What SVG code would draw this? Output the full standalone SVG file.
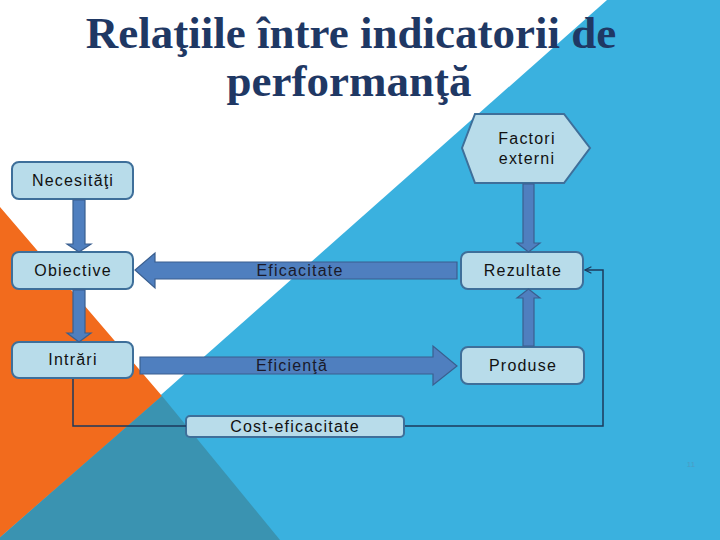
<svg xmlns="http://www.w3.org/2000/svg" width="720" height="540" viewBox="0 0 720 540">
<defs>
<style>
.box{fill:#b8dcea;stroke:#3e6f9a;stroke-width:2}
.lbl{font-family:"Liberation Sans","Open Sans",sans-serif;font-size:16px;letter-spacing:1.2px;fill:#111;text-anchor:middle}
.blk{fill:#4f7fbf;stroke:#3a5f8f;stroke-width:1.2}
.alb{font-family:"Liberation Sans","Open Sans",sans-serif;font-size:16px;letter-spacing:1.2px;fill:#1a1a2a;text-anchor:middle}
.thin{fill:none;stroke:#1d3a5c;stroke-width:1.5}
.title{font-family:"Liberation Serif","Times New Roman",serif;font-weight:bold;font-size:45px;fill:#1f3864;text-anchor:middle}
</style>
<marker id="chev" viewBox="0 0 10 10" refX="9" refY="5" markerWidth="8" markerHeight="8" orient="auto" markerUnits="userSpaceOnUse">
<path d="M1,1 L9,5 L1,9" fill="none" stroke="#1d3a5c" stroke-width="1.4"/>
</marker>
</defs>
<rect x="0" y="0" width="720" height="540" fill="#ffffff"/>
<polygon points="607,0 720,0 720,540 -3,540" fill="#3ab1df"/>
<polygon points="0,207 162,396 -3,540 0,540" fill="#f26b1d"/>
<polygon points="162,396 280,540 -3,540" fill="#3a93b1"/>
<text class="title" x="351" y="48">Relaţiile între indicatorii de</text>
<text class="title" x="349" y="96">performanţă</text>
<g id="necesitati"><rect class="box" x="12" y="162" width="121" height="37" rx="7"/><text class="lbl" x="73" y="186">Necesităţi</text></g>
<g id="obiective"><rect class="box" x="12" y="252" width="121" height="37" rx="7"/><text class="lbl" x="73" y="276">Obiective</text></g>
<g id="intrari"><rect class="box" x="12" y="342" width="121" height="36" rx="7"/><text class="lbl" x="73" y="365">Intrări</text></g>
<g id="factori"><polygon class="box" points="462,148 475,114 564,114 590,148 564,183 475,183"/><text class="lbl" x="527" y="144">Factori</text><text class="lbl" x="527" y="164">externi</text></g>
<g id="rezultate"><rect class="box" x="461" y="252" width="122" height="37" rx="7"/><text class="lbl" x="523" y="276">Rezultate</text></g>
<g id="produse"><rect class="box" x="461" y="347" width="123" height="37" rx="7"/><text class="lbl" x="523" y="371">Produse</text></g>
<g id="cost"><rect class="box" x="186" y="416" width="218" height="21" rx="4"/><text class="lbl" x="295" y="432">Cost-eficacitate</text></g>
<g id="connectors">
<polygon class="blk" points="73,200 85,200 85,244 91,244 79,252 67,244 73,244"/>
<polygon class="blk" points="73,290 85,290 85,333 91,333 79,342 67,333 73,333"/>
<polygon class="blk" points="523,184 534,184 534,243 540,243 528.5,252 517,243 523,243"/>
<polygon class="blk" points="523,346 534,346 534,298 540,298 528.5,289 517,298 523,298"/>
<polygon class="blk" points="457,262 457,279 155,279 155,288 135,270 155,253 155,262"/>
<text class="alb" x="300" y="276">Eficacitate</text>
<polygon class="blk" points="140,357 433,357 433,346 457,366 433,385 433,374 140,374"/>
<text class="alb" x="292" y="371">Eficienţă</text>
<polyline class="thin" points="73,379 73,426 186,426"/>
<polyline class="thin" points="405,426 603,426 603,270 585,270" marker-end="url(#chev)"/>
</g>
<text x="691" y="467" font-family="Liberation Sans,sans-serif" font-size="8" fill="#4a9cc4" text-anchor="middle">11</text>
</svg>
